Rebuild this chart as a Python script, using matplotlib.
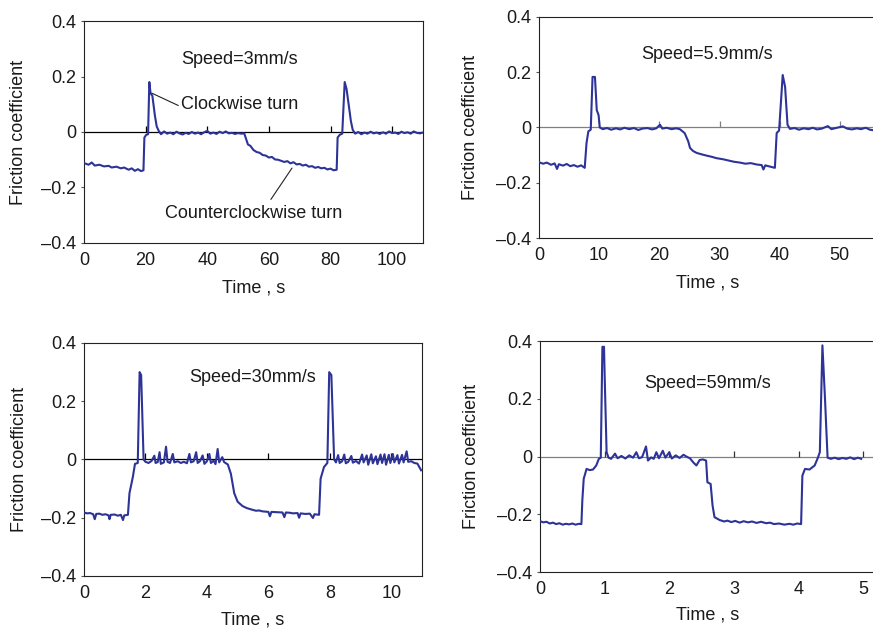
import matplotlib as mpl
import matplotlib.pyplot as plt
from matplotlib.ticker import FuncFormatter, MultipleLocator

mpl.rcParams.update(
    {
        "font.family": ["Liberation Sans", "DejaVu Sans"],
        "font.size": 13,
        "axes.linewidth": 0.8,
    }
)

TRACE_COLOR = "#2d3397"
TEXT_COLOR = "#1a1a1a"

# ---- Speed = 3 mm/s ----
time_3mm = [
    0, 1.5, 2.5, 3.5, 5, 6.5, 8, 9, 10.5, 12,
    13, 14.5, 15.5, 16.5, 17.5, 18.5, 19.3, 19.6, 20.2, 20.8,
    21.2, 21.6, 22.2, 23.0, 23.6, 24.3, 25, 26, 27, 28,
    29, 30, 31, 32, 33, 34, 35, 36, 37, 38,
    39, 40, 41, 42, 43, 44, 45, 46, 47, 48,
    49, 50, 51, 52, 52.6, 53.2, 54, 55, 56, 57,
    58, 59, 60, 61, 62, 63, 64, 65, 66, 67,
    68, 69, 70, 71, 72, 73, 74, 75, 76, 77,
    78, 79, 80, 81, 82, 82.3, 83.0, 83.8, 84.6, 85.2,
    86.0, 86.6, 87.2, 88, 89, 90, 91, 92, 93, 94,
    95, 96, 97, 98, 99, 100, 101, 102, 103, 104,
    105, 106, 107, 108, 109, 110,
]
mu_3mm = [
    -0.112, -0.118, -0.110, -0.121, -0.118, -0.124, -0.122, -0.128, -0.125, -0.131,
    -0.128, -0.136, -0.131, -0.140, -0.134, -0.141, -0.138, -0.020, -0.010, -0.008,
    0.180, 0.140, 0.130, 0.060, 0.020, 0.003, -0.008, 0.002, -0.006, -0.002,
    -0.008, 0.001, -0.005, -0.009, -0.003, -0.007, 0.000, -0.006, -0.002, -0.008,
    -0.001, 0.004, -0.006, -0.002, -0.007, 0.001, -0.004, 0.002, -0.005, -0.003,
    -0.007, -0.004, -0.006, -0.005, -0.025, -0.045, -0.050, -0.065, -0.072, -0.075,
    -0.083, -0.085, -0.092, -0.090, -0.099, -0.100, -0.104, -0.108, -0.105, -0.113,
    -0.109, -0.117, -0.115, -0.121, -0.118, -0.125, -0.123, -0.129, -0.126, -0.131,
    -0.129, -0.135, -0.132, -0.138, -0.136, -0.020, -0.010, -0.006, 0.180, 0.155,
    0.090, 0.040, 0.008, -0.006, 0.000, -0.008, -0.002, -0.006, 0.001, -0.005,
    -0.002, -0.007, -0.001, -0.006, 0.002, -0.004, -0.002, -0.007, 0.001, -0.004,
    -0.001, -0.006, 0.002, -0.003, -0.005, -0.002,
]

# ---- Speed = 5.9 mm/s ----
time_5_9mm = [
    0, 0.7, 1.3, 2.0, 2.6, 3.0, 3.3, 4.0, 4.6, 5.2,
    5.8, 6.4, 7.0, 7.6, 7.9, 8.2, 8.6, 8.9, 9.3, 9.6,
    9.9, 10.1, 10.6, 11.3, 12, 12.8, 13.5, 14.2, 15, 15.8,
    16.5, 17.2, 18, 18.8, 19.5, 20.1, 20.5, 21.2, 22, 22.8,
    23.4, 24.2, 24.8, 25.1, 25.6, 26.2, 27, 27.9, 28.7, 29.5,
    30.6, 31.4, 32.4, 33.4, 34.3, 35.2, 36.2, 37.0, 37.3, 37.6,
    38.3, 39.2, 39.5, 39.9, 40.5, 40.9, 41.3, 41.7, 42.5, 43.2,
    44, 44.8, 45.5, 46.2, 47, 48, 48.6, 49.3, 50.5, 51.2,
    52, 52.8, 53.5, 54.3, 55.0, 55.6,
]
mu_5_9mm = [
    -0.126, -0.131, -0.127, -0.135, -0.130, -0.150, -0.133, -0.138, -0.132, -0.140,
    -0.136, -0.142, -0.137, -0.146, -0.056, -0.014, -0.008, 0.183, 0.183, 0.063,
    0.045, 0.000, -0.006, -0.002, -0.008, -0.003, -0.007, -0.001, -0.006, -0.002,
    -0.009, -0.004, -0.002, -0.007, -0.003, 0.010, -0.004, -0.001, -0.006, -0.003,
    -0.006, -0.020, -0.050, -0.074, -0.085, -0.092, -0.097, -0.102, -0.106, -0.111,
    -0.115, -0.119, -0.124, -0.127, -0.131, -0.129, -0.134, -0.136, -0.152, -0.137,
    -0.141, -0.146, -0.020, -0.011, 0.190, 0.147, 0.010, -0.005, -0.002, -0.008,
    -0.003, -0.006, -0.001, -0.007, -0.004, 0.005, -0.006, -0.002, 0.004, -0.004,
    -0.007, -0.003, -0.006, -0.001, -0.008, -0.010,
]

# ---- Speed = 30 mm/s ----
time_30mm = [
    0, 0.1, 0.2, 0.3, 0.35, 0.4, 0.5, 0.6, 0.7, 0.8,
    0.83, 0.87, 1.0, 1.1, 1.2, 1.27, 1.31, 1.43, 1.48, 1.59,
    1.66, 1.75, 1.81, 1.86, 1.94, 2.0, 2.1, 2.2, 2.29, 2.33,
    2.4, 2.46, 2.5, 2.6, 2.67, 2.72, 2.8, 2.89, 2.94, 3.05,
    3.15, 3.25, 3.35, 3.43, 3.48, 3.57, 3.65, 3.7, 3.78, 3.86,
    3.92, 4.0, 4.08, 4.13, 4.22, 4.28, 4.35, 4.40, 4.5, 4.56,
    4.68, 4.78, 4.89, 5.0, 5.16, 5.3, 5.49, 5.6, 5.7, 5.8,
    5.92, 6.0, 6.05, 6.1, 6.3, 6.46, 6.52, 6.57, 6.7, 6.8,
    6.95, 7.0, 7.05, 7.2, 7.35, 7.45, 7.5, 7.65, 7.7, 7.81,
    7.92, 7.98, 8.05, 8.14, 8.2, 8.27, 8.32, 8.4, 8.47, 8.52,
    8.6, 8.7, 8.75, 8.85, 8.95, 9.05, 9.1, 9.2, 9.25, 9.35,
    9.4, 9.5, 9.55, 9.65, 9.7, 9.78, 9.83, 9.92, 9.97, 10.05,
    10.1, 10.2, 10.25, 10.35, 10.4, 10.5, 10.55, 10.65, 10.75, 10.85,
    10.97,
]
mu_30mm = [
    -0.182, -0.185, -0.184, -0.188, -0.205, -0.187, -0.186, -0.190, -0.188, -0.192,
    -0.205, -0.190, -0.189, -0.193, -0.190, -0.208, -0.192, -0.190, -0.116, -0.060,
    -0.015, -0.012, 0.300, 0.290, 0.000, -0.008, -0.012, -0.005, 0.013, -0.012,
    -0.009, 0.025, -0.015, -0.010, 0.044, -0.008, -0.012, 0.019, -0.010, -0.006,
    -0.012, -0.008, -0.013, 0.019, -0.010, -0.006, 0.025, -0.012, -0.005, 0.014,
    -0.015, -0.006, 0.019, -0.012, -0.004, -0.016, 0.036, -0.010, 0.008, -0.009,
    -0.017, -0.049, -0.116, -0.145, -0.160, -0.167, -0.173, -0.176, -0.175, -0.178,
    -0.179, -0.180, -0.195, -0.180, -0.181, -0.182, -0.198, -0.182, -0.183, -0.185,
    -0.184, -0.200, -0.185, -0.187, -0.186, -0.201, -0.188, -0.190, -0.066, -0.026,
    -0.012, 0.300, 0.290, 0.000, -0.010, 0.015, -0.012, -0.006, 0.017, -0.013,
    -0.008, 0.012, -0.011, -0.005, -0.014, 0.017, -0.010, 0.014, -0.018, 0.018,
    -0.013, 0.011, -0.016, 0.017, -0.012, 0.018, -0.018, 0.016, -0.012, 0.019,
    -0.010, 0.015, -0.014, 0.016, -0.010, 0.028, -0.008, -0.006, -0.012, -0.014,
    -0.037,
]

# ---- Speed = 59 mm/s ----
time_59mm = [
    0, 0.05, 0.1, 0.15, 0.2, 0.25, 0.3, 0.35, 0.4, 0.45,
    0.5, 0.55, 0.6, 0.64, 0.655, 0.676, 0.72, 0.77, 0.82, 0.87,
    0.91, 0.94, 0.965, 0.99, 1.0, 1.03, 1.06, 1.1, 1.16, 1.2,
    1.26, 1.32, 1.38, 1.44, 1.49, 1.53, 1.58, 1.64, 1.67, 1.72,
    1.76, 1.8, 1.84, 1.9, 1.94, 2.0, 2.04, 2.1, 2.16, 2.22,
    2.28, 2.32, 2.37, 2.42, 2.47, 2.52, 2.57, 2.59, 2.64, 2.67,
    2.7, 2.78, 2.85, 2.9, 2.96, 3.02, 3.09, 3.15, 3.22, 3.28,
    3.35, 3.42, 3.5, 3.56, 3.62, 3.7, 3.78, 3.86, 3.92, 3.98,
    4.04, 4.06, 4.1, 4.17, 4.25, 4.3, 4.33, 4.37, 4.41, 4.43,
    4.45, 4.5, 4.56, 4.62, 4.68, 4.74, 4.8, 4.86, 4.92, 4.97,
]
mu_59mm = [
    -0.224, -0.228, -0.226, -0.232, -0.229, -0.234, -0.231, -0.236, -0.233, -0.235,
    -0.232, -0.236, -0.233, -0.234, -0.150, -0.077, -0.043, -0.047, -0.045, -0.031,
    -0.008, -0.004, 0.380, 0.380, 0.280, 0.015, -0.004, -0.008, 0.010, -0.006,
    0.002, -0.007, 0.004, -0.004, 0.015, -0.006, -0.002, 0.035, -0.014, -0.003,
    -0.008, 0.015, -0.006, 0.020, -0.004, 0.015, -0.007, 0.004, -0.005, 0.006,
    -0.002, -0.006, -0.020, -0.031, -0.012, -0.010, -0.014, -0.089, -0.095, -0.170,
    -0.210, -0.220, -0.225, -0.222, -0.227, -0.223, -0.229, -0.224, -0.228, -0.225,
    -0.230, -0.226, -0.231, -0.229, -0.234, -0.232, -0.236, -0.233, -0.236, -0.232,
    -0.234, -0.066, -0.043, -0.045, -0.031, -0.004, 0.015, 0.385, 0.200, 0.096,
    -0.004, -0.008, -0.004, -0.009, -0.005, -0.008, -0.003, -0.009, -0.004, -0.008,
]


def y_label_fmt(value, _pos):
    if abs(value) < 1e-9:
        return "0"
    return f"{value:.1f}".replace("-", "\u2013")


def style_panel(ax, xmax, xstep, zero_color, tick_color, ylab_x, xlab_y):
    ax.set_xlim(0, xmax)
    ax.set_ylim(-0.4, 0.4)
    ax.xaxis.set_major_locator(MultipleLocator(xstep))
    ax.yaxis.set_major_locator(MultipleLocator(0.2))
    ax.yaxis.set_major_formatter(FuncFormatter(y_label_fmt))
    ax.tick_params(axis="x", length=0, pad=6.5, labelsize=13, colors=TEXT_COLOR)
    ax.tick_params(axis="y", direction="out", length=2.5, width=0.8, pad=3, labelsize=13, colors=TEXT_COLOR)
    ax.tick_params(axis="y", color="#555555")
    for side in ("top", "right", "left", "bottom"):
        ax.spines[side].set_color("#222222")

    # horizontal axis crossing at zero, with its tick marks pointing up
    ax.axhline(0, color=zero_color, linewidth=0.9, zorder=1)
    xt = [x for x in ax.get_xticks() if 0 < x <= xmax]
    ax.plot(xt, [0] * len(xt), linestyle="none", marker=2, markersize=4,
            markeredgewidth=0.9, color=tick_color, zorder=1)

    ax.set_ylabel("Friction coefficient", fontsize=13, color=TEXT_COLOR)
    ax.yaxis.label.set_va("center")
    ax.yaxis.set_label_coords(ylab_x, 0.5)
    ax.set_xlabel("Time , s", fontsize=13, color=TEXT_COLOR)
    ax.xaxis.label.set_va("center")
    ax.xaxis.set_label_coords(0.5, xlab_y)


fig = plt.figure(figsize=(8.73, 6.29), dpi=100)
fig.patch.set_facecolor("white")

ax1 = fig.add_axes([0.0962, 0.6137, 0.3883, 0.3529])
ax2 = fig.add_axes([0.6174, 0.6216, 0.3860, 0.3514])
ax3 = fig.add_axes([0.0962, 0.0843, 0.3872, 0.3704])
ax4 = fig.add_axes([0.6186, 0.0906, 0.3849, 0.3672])

# Panel 1
ax1.plot(time_3mm, mu_3mm, color=TRACE_COLOR, linewidth=1.5, zorder=3)
style_panel(ax1, 110, 20, "black", "black", -0.192, -0.203)
ax1.text(50.6, 0.263, "Speed=3mm/s", ha="center", va="center", fontsize=13, color=TEXT_COLOR)
ax1.annotate("Clockwise turn", xy=(22.0, 0.14), xytext=(31.5, 0.10),
             ha="left", va="center", fontsize=13, color=TEXT_COLOR,
             arrowprops={"arrowstyle": "-", "color": "#222222", "linewidth": 0.8,
                         "shrinkA": 0, "shrinkB": 0, "relpos": (0.0, 0.35)})
ax1.annotate("Counterclockwise turn", xy=(67.5, -0.13), xytext=(54.9, -0.292),
             ha="center", va="center", fontsize=13, color=TEXT_COLOR,
             arrowprops={"arrowstyle": "-", "color": "#222222", "linewidth": 0.8,
                         "shrinkA": 0, "shrinkB": 0, "relpos": (0.6, 1.3)})

# Panel 2
ax2.plot(time_5_9mm, mu_5_9mm, color=TRACE_COLOR, linewidth=1.5, zorder=3)
style_panel(ax2, 56, 10, "#808080", "#808080", -0.203, -0.204)
ax2.spines["right"].set_visible(False)
ax2.text(27.9, 0.263, "Speed=5.9mm/s", ha="center", va="center", fontsize=13, color=TEXT_COLOR)

# Panel 3
ax3.plot(time_30mm, mu_30mm, color=TRACE_COLOR, linewidth=1.5, zorder=3)
style_panel(ax3, 11, 2, "black", "black", -0.192, -0.189)
ax3.text(5.49, 0.28, "Speed=30mm/s", ha="center", va="center", fontsize=13, color=TEXT_COLOR)

# Panel 4
ax4.plot(time_59mm, mu_59mm, color=TRACE_COLOR, linewidth=1.5, zorder=3)
style_panel(ax4, 5.2, 1, "#808080", "#333333", -0.203, -0.186)
ax4.spines["right"].set_visible(False)
ax4.text(2.6, 0.254, "Speed=59mm/s", ha="center", va="center", fontsize=13, color=TEXT_COLOR)

fig.savefig("out.png", dpi=100, facecolor="white")
